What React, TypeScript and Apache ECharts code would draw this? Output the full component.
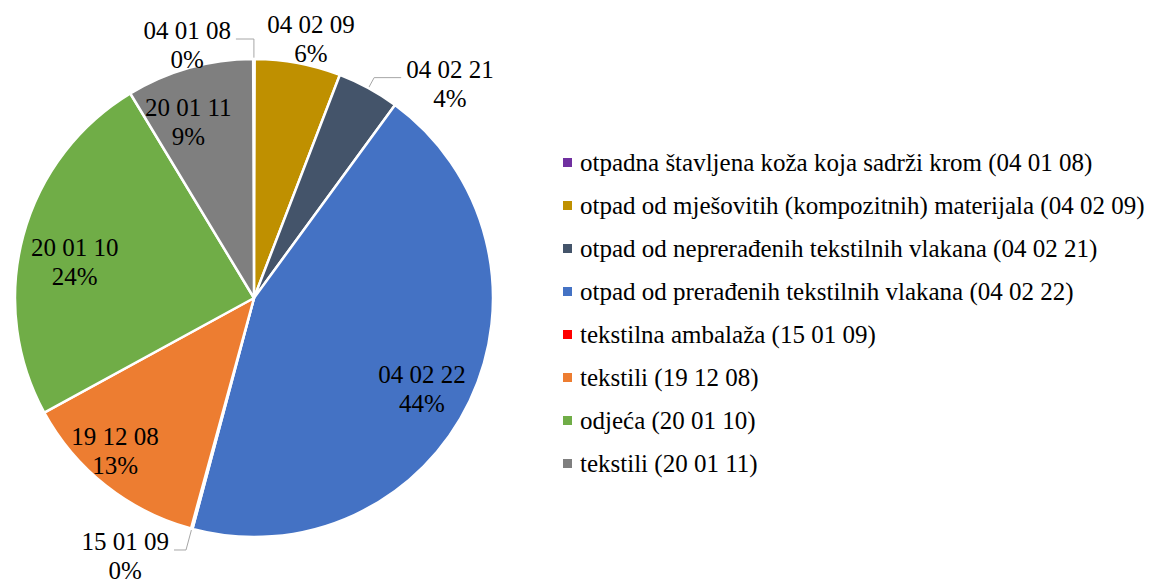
import React, { useEffect, useRef } from "react";
import * as echarts from "echarts";

const legendNames: string[] = [
  "otpadna štavljena koža koja sadrži krom (04 01 08)",
  "otpad od mješovitih (kompozitnih) materijala (04 02 09)",
  "otpad od neprerađenih tekstilnih vlakana (04 02 21)",
  "otpad od prerađenih tekstilnih vlakana (04 02 22)",
  "tekstilna ambalaža (15 01 09)",
  "tekstili (19 12 08)",
  "odjeća (20 01 10)",
  "tekstili (20 01 11)",
];
const codes: string[] = [
  "04 01 08",
  "04 02 09",
  "04 02 21",
  "04 02 22",
  "15 01 09",
  "19 12 08",
  "20 01 10",
  "20 01 11",
];
const shares: number[] = [0.1, 5.8, 4.2, 44.1, 0.1, 12.8, 24.3, 8.6];
const colors: string[] = [
  "#7030A0",
  "#BF9000",
  "#44546A",
  "#4472C4",
  "#FF0000",
  "#ED7D31",
  "#70AD47",
  "#7F7F7F",
];

// which labels go where
const leaderCodes: string[] = ["04 01 08", "04 02 21", "15 01 09"];
const innerCodes: string[] = ["04 02 22", "19 12 08", "20 01 10", "20 01 11"];
const ringCodes: string[] = ["04 02 09"];

const FONT = "Liberation Serif";

const leaderLines: Record<string, { length: number; length2: number }> = {
  "04 01 08": { length: 20, length2: 18 },
  "04 02 21": { length: 12, length2: 27 },
  "15 01 09": { length: 22, length2: 12 },
};

// small label nudges (style only), turned into label padding
const labelNudge: Record<string, [number, number]> = {
  "04 01 08": [0, 6],
  "04 02 21": [0, 6],
  "15 01 09": [0, 6],
  "04 02 09": [8, 2],
  "04 02 22": [-8, 7],
  "19 12 08": [-18, 0],
  "20 01 10": [9, 15],
  "20 01 11": [-13, 12],
};

const nudgePadding = (code: string, outsideLeader: boolean) => {
  const [dx, dy] = labelNudge[code] || [0, 0];
  // outside labels are edge-aligned horizontally; only vertical nudge there
  const h = outsideLeader ? 0 : dx;
  return [
    2 * Math.max(dy, 0),
    2 * Math.max(-h, 0),
    2 * Math.max(-dy, 0),
    2 * Math.max(h, 0),
  ];
};

const fmt = (p: any) => {
  const code = codes[p.dataIndex];
  return `{a|${code}}\n{a|${Math.round(p.percent)}%}`;
};

const rich = {
  a: {
    align: "center",
    fontFamily: FONT,
    fontSize: 25,
    lineHeight: 29,
    color: "#000",
  },
};

export default function App() {
  const ref = useRef<HTMLDivElement>(null);
  useEffect(() => {
    if (!ref.current) return;
    const chart = echarts.init(ref.current, undefined, { renderer: "svg" });
    const center = [254, 298];
    const R = 239;

    const mainData = legendNames.map((name, i) => {
      const code = codes[i];
      const isLeader = leaderCodes.includes(code);
      return {
        name,
        value: shares[i],
        itemStyle: { color: colors[i] },
        label: isLeader
          ? { show: true, padding: nudgePadding(code, true) }
          : { show: false },
        labelLine: isLeader
          ? { show: true, ...leaderLines[code] }
          : { show: false },
      };
    });

    const overlayData = (shown: string[]) =>
      legendNames.map((name, i) => {
        const code = codes[i];
        const show = shown.includes(code);
        return {
          name,
          value: shares[i],
          label: show
            ? { show: true, padding: nudgePadding(code, false) }
            : { show: false },
        };
      });

    chart.setOption({
      animation: false,
      backgroundColor: "#fff",
      textStyle: { fontFamily: FONT },
      legend: {
        data: legendNames,
        orient: "vertical",
        left: 558,
        top: 145,
        itemWidth: 9,
        itemHeight: 9,
        itemGap: 18,
        icon: "rect",
        selectedMode: false,
        itemStyle: { borderWidth: 0 },
        textStyle: {
          fontFamily: FONT,
          fontSize: 25,
          lineHeight: 25,
          color: "#000",
          padding: [0, 0, 0, 3],
        },
      },
      series: [
        {
          type: "pie",
          center,
          radius: [0, R],
          startAngle: 90.2,
          clockwise: true,
          avoidLabelOverlap: false,
          itemStyle: { borderColor: "#fff", borderWidth: 2.5 },
          label: {
            position: "outside",
            formatter: fmt,
            rich,
            fontFamily: FONT,
            distanceToLabelLine: 5,
          },
          labelLine: {
            lineStyle: { color: "#A6A6A6", width: 1 },
            smooth: false,
          },
          emphasis: { disabled: true },
          data: mainData,
        },
        {
          type: "pie",
          center,
          radius: [145, R],
          startAngle: 90.2,
          silent: true,
          avoidLabelOverlap: false,
          itemStyle: { color: "rgba(0,0,0,0)", borderWidth: 0 },
          label: { position: "inside", formatter: fmt, rich, fontFamily: FONT },
          labelLine: { show: false },
          emphasis: { disabled: true },
          data: overlayData(innerCodes),
        },
        {
          type: "pie",
          center,
          radius: [R, 287],
          startAngle: 90.2,
          silent: true,
          avoidLabelOverlap: false,
          itemStyle: { color: "rgba(0,0,0,0)", borderWidth: 0 },
          label: { position: "inside", formatter: fmt, rich, fontFamily: FONT },
          labelLine: { show: false },
          emphasis: { disabled: true },
          data: overlayData(ringCodes),
        },
      ],
    });
    return () => chart.dispose();
  }, []);
  return (
    <div
      ref={ref}
      style={{ position: "fixed", left: 0, top: 0, width: 1152, height: 579 }}
    />
  );
}
